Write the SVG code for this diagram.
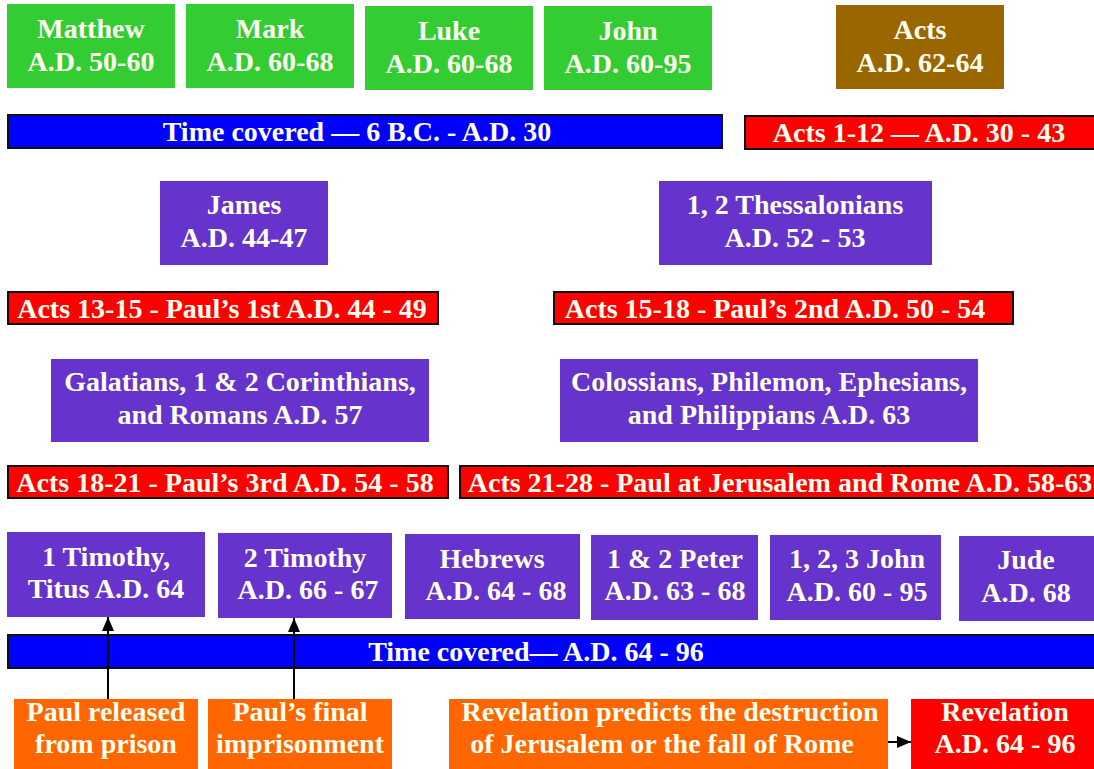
<svg xmlns="http://www.w3.org/2000/svg" width="1094" height="769" viewBox="0 0 1094 769">
<style>
.t text{font-weight:700;font-size:28px;fill:#FFFFF0;text-anchor:middle}
.g{fill:#33CC33}
.b{fill:#996600}
.p{fill:#6633CC}
.r{fill:#FF0000}
.bar{stroke:#111;stroke-width:2}
.bl{fill:#0000FF}
.o{fill:#FF6600}
.c{stroke:#000;stroke-width:2;fill:none}
</style>
<defs>
<marker id="ah" viewBox="0 0 14 12" refX="14" refY="6" markerWidth="14" markerHeight="12" orient="auto" markerUnits="userSpaceOnUse">
<path d="M0,0 L14,6 L0,12 z" fill="#000"/>
</marker>
</defs>
<rect width="1094" height="769" fill="#fff"/>
<g class="t" font-family="Liberation Serif, Times New Roman, serif">
<g id="matthew"><rect class="g" x="7" y="4" width="168" height="84"/><text x="91" y="38">Matthew</text><text x="91" y="71">A.D. 50-60</text></g>
<g id="mark"><rect class="g" x="186" y="4" width="168" height="84"/><text x="270" y="38">Mark</text><text x="270" y="71">A.D. 60-68</text></g>
<g id="luke"><rect class="g" x="365" y="6" width="168" height="84"/><text x="449" y="40">Luke</text><text x="449" y="73">A.D. 60-68</text></g>
<g id="john"><rect class="g" x="544" y="6" width="168" height="84"/><text x="628" y="40">John</text><text x="628" y="73">A.D. 60-95</text></g>
<g id="acts"><rect class="b" x="836" y="5" width="168" height="84"/><text x="920" y="39">Acts</text><text x="920" y="72">A.D. 62-64</text></g>
<g id="time1"><rect class="bl bar" x="8" y="115" width="714" height="33"/><text x="357" y="141">Time covered — 6 B.C. - A.D. 30</text></g>
<g id="acts1-12"><rect class="r bar" x="745" y="116" width="352" height="33"/><text x="919" y="142">Acts 1-12 — A.D. 30 - 43</text></g>
<g id="james"><rect class="p" x="160" y="181" width="168" height="84"/><text x="244" y="214">James</text><text x="244" y="247">A.D. 44-47</text></g>
<g id="thess"><rect class="p" x="659" y="181" width="273" height="84"/><text x="795" y="214">1, 2 Thessalonians</text><text x="795" y="247">A.D. 52 - 53</text></g>
<g id="acts13-15"><rect class="r bar" x="8" y="292" width="430" height="32"/><text x="222" y="318">Acts 13-15 - Paul’s 1st A.D. 44 - 49</text></g>
<g id="acts15-18"><rect class="r bar" x="554" y="292" width="459" height="32"/><text x="775" y="318">Acts 15-18 - Paul’s 2nd A.D. 50 - 54</text></g>
<g id="galatians"><rect class="p" x="51" y="359" width="378" height="83"/><text x="240" y="391">Galatians, 1 &amp; 2 Corinthians,</text><text x="240" y="424">and Romans A.D. 57</text></g>
<g id="colossians"><rect class="p" x="560" y="359" width="418" height="83"/><text x="769" y="391">Colossians, Philemon, Ephesians,</text><text x="769" y="424">and Philippians A.D. 63</text></g>
<g id="acts18-21"><rect class="r bar" x="8" y="466" width="440" height="32"/><text x="225" y="492">Acts 18-21 - Paul’s 3rd A.D. 54 - 58</text></g>
<g id="acts21-28"><rect class="r bar" x="460" y="466" width="640" height="32"/><text x="780" y="492">Acts 21-28 - Paul at Jerusalem and Rome A.D. 58-63</text></g>
<g id="tim1"><rect class="p" x="7" y="532" width="198" height="85"/><text x="106" y="566">1 Timothy,</text><text x="106" y="598">Titus A.D. 64</text></g>
<g id="tim2"><rect class="p" x="218" y="533" width="174" height="85"/><text x="305" y="567">2 Timothy</text><text x="308" y="599">A.D. 66 - 67</text></g>
<g id="hebrews"><rect class="p" x="405" y="534" width="175" height="85"/><text x="492" y="568">Hebrews</text><text x="496" y="600">A.D. 64 - 68</text></g>
<g id="peter"><rect class="p" x="591" y="535" width="167" height="85"/><text x="675" y="568">1 &amp; 2 Peter</text><text x="675" y="600">A.D. 63 - 68</text></g>
<g id="johns"><rect class="p" x="770" y="535" width="171" height="85"/><text x="857" y="568">1, 2, 3 John</text><text x="857" y="601">A.D. 60 - 95</text></g>
<g id="jude"><rect class="p" x="959" y="536" width="140" height="85"/><text x="1026" y="569">Jude</text><text x="1026" y="602">A.D. 68</text></g>
<g id="time2"><rect class="bl bar" x="8" y="635" width="1090" height="33"/><text x="536" y="661">Time covered— A.D. 64 - 96</text></g>
<g id="released"><rect class="o" x="14" y="699" width="184" height="72"/><text x="106" y="721">Paul released</text><text x="106" y="753">from prison</text></g>
<g id="final"><rect class="o" x="208" y="699" width="184" height="72"/><text x="300" y="721">Paul’s final</text><text x="300" y="753">imprisonment</text></g>
<g id="predicts"><rect class="o" x="449" y="699" width="439" height="72"/><text x="670" y="721">Revelation predicts the destruction</text><text x="662" y="753">of Jerusalem or the fall of Rome</text></g>
<g id="revelation"><rect class="r" x="911" y="699" width="185" height="72"/><text x="1005" y="721">Revelation</text><text x="1005" y="753">A.D. 64 - 96</text></g>
</g>
<g id="connectors">
<line class="c" x1="108" y1="699" x2="108" y2="617" marker-end="url(#ah)"/>
<line class="c" x1="294" y1="699" x2="294" y2="618" marker-end="url(#ah)"/>
<line class="c" x1="888" y1="742" x2="911" y2="742" marker-end="url(#ah)"/>
</g>
</svg>
